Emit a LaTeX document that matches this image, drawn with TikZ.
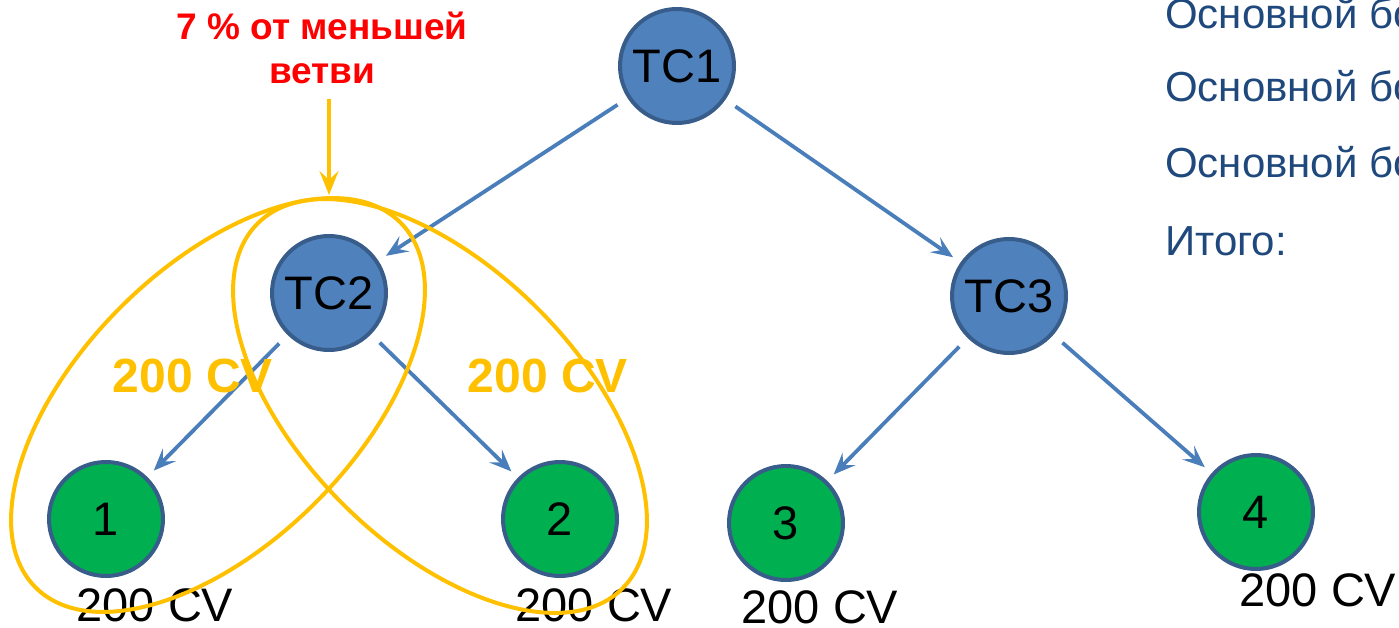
\documentclass[tikz,border=0pt]{standalone}
\usepackage{fontspec}
\setmainfont{Liberation Sans}
\usepackage{tikz}
\usetikzlibrary{arrows.meta}

\definecolor{tcblue}{HTML}{4F81BD}
\definecolor{tcedge}{HTML}{385D8A}
\definecolor{leafgreen}{HTML}{00B050}
\definecolor{gold}{HTML}{FFC000}
\definecolor{linkblue}{HTML}{4A7EBB}
\definecolor{textblue}{HTML}{1F497D}

\begin{document}
\begin{tikzpicture}[x=1pt, y=-1pt,
    tc/.style={circle, draw=tcedge, line width=4pt, fill=tcblue, minimum size=114pt, inner sep=0pt, font=\fontsize{47}{47}\selectfont},
    leaf/.style={tc, fill=leafgreen},
    link/.style={linkblue, line width=3.8pt, -{Stealth[length=22pt, width=18pt, inset=9pt]}, shorten <=12pt, shorten >=9pt},
    ring/.style={gold, line width=4pt},
    cv/.style={anchor=north, inner sep=0pt, font=\fontsize{47}{47}\selectfont},
    goldcv/.style={gold, inner sep=0pt, font=\bfseries\fontsize{48}{48}\selectfont},
    info/.style={textblue, anchor=base west, inner sep=0pt, font=\fontsize{42}{42}\selectfont}]
    \useasboundingbox (0,0) rectangle (1399,628);

    \node[tc] (tc1) at (677,66) {TC1};
    \node[tc] (tc2) at (329,293) {TC2};
    \node[tc] (tc3) at (1009,296) {TC3};
    \node[leaf] (n1) at (106,519) {1};
    \node[leaf] (n2) at (560,519) {2};
    \node[leaf] (n3) at (786,523) {3};
    \node[leaf] (n4) at (1256,512) {4};

    \draw[link] (tc1) -- (tc2);
    \draw[link] (tc1) -- (tc3);
    \draw[link] (tc2) -- (n1);
    \draw[link] (tc2) -- (n2);
    \draw[link] (tc3) -- (n3);
    \draw[link] (tc3) -- (n4);

    \node[cv] (cv1) at (155,588) {200 CV};
    \node[cv] (cv2) at (594,588) {200 CV};
    \node[cv] (cv3) at (820,590) {200 CV};
    \node[cv] (cv4) at (1318,573) {200 CV};

    \node[goldcv] (legl) at (193,376) {200 CV};
    \node[goldcv] (legr) at (548,376) {200 CV};

    \node[red, anchor=north, inner sep=0pt, align=center, font=\bfseries\fontsize{37}{44}\selectfont] (note) at (322,12) {7 \% от меньшей\\ветви};
    \coordinate (apex) at (329,195);
    \draw[gold, line width=4pt, -{Stealth[length=24pt, width=19pt, inset=9pt]}, shorten <=15pt] (note.south -| apex) -- (apex);

    \draw[ring, rotate around={45:(218,405)}] (218,405) ellipse [x radius=258pt, y radius=138pt];
    \draw[ring, rotate around={-45:(440,406)}] (440,406) ellipse [x radius=258pt, y radius=138pt];

    \node[info] (row1) at (1165,29) {Основной бо};
    \node[info] (row2) at (1165,102) {Основной бо};
    \node[info] (row3) at (1165,178) {Основной бо};
    \node[info] (row4) at (1165,255) {Итого:};
\end{tikzpicture}
\end{document}
